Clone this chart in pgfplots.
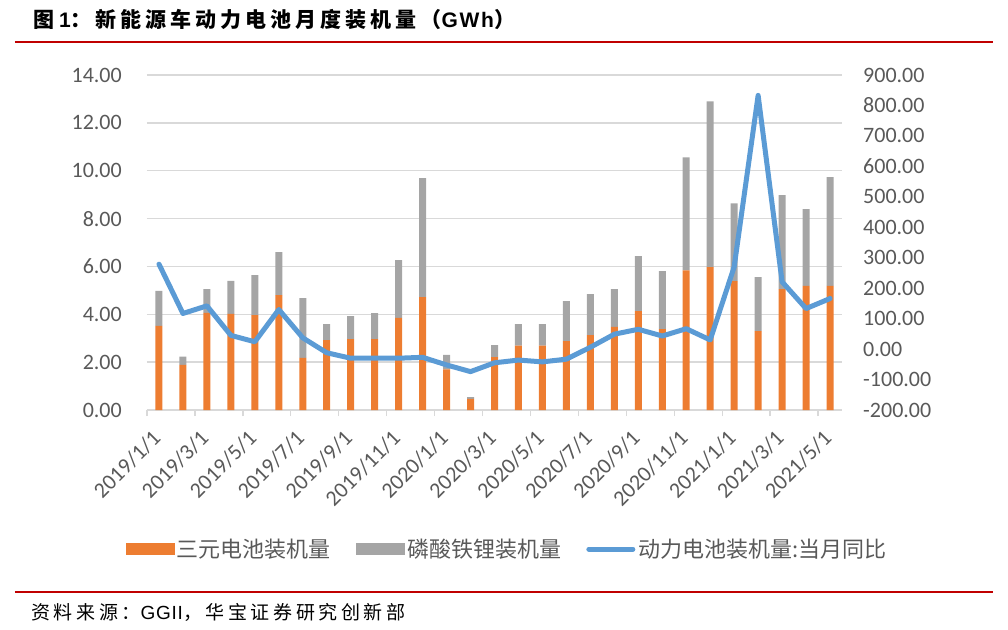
\documentclass[border=0pt]{standalone}
\usepackage{fontspec}
\usepackage{pgfplots}
\pgfplotsset{compat=1.18}
\usepackage{pgfplotstable}
\setmainfont{Carlito}
\newfontfamily\cjk{Noto Sans CJK SC}
\newfontfamily\cjktitle[LetterSpace=19]{Noto Sans CJK SC}
\newfontfamily\lattitle[LetterSpace=8]{Liberation Sans}
\newfontfamily\cjksrc[LetterSpace=19]{Noto Sans CJK SC}
\newfontfamily\latsrc[LetterSpace=4]{Liberation Sans}
\definecolor{orangeC}{HTML}{ED7D31}
\definecolor{grayC}{HTML}{A5A5A5}
\definecolor{blueC}{HTML}{5B9BD5}
\definecolor{gridC}{HTML}{D9D9D9}
\definecolor{tickC}{HTML}{595959}
\definecolor{redC}{HTML}{C00000}

\pgfplotstableread{
idx tern lfp yoy
0 3.52 1.46 279
1 1.89 0.34 117
2 4.06 0.99 142
3 4.02 1.38 45
4 3.97 1.67 24
5 4.80 1.80 130
6 2.18 2.50 37
7 2.92 0.67 -12
8 2.96 0.96 -30
9 2.96 1.09 -30
10 3.85 2.41 -30
11 4.72 4.97 -27
12 1.70 0.60 -52
13 0.46 0.08 -74
14 2.21 0.50 -45
15 2.69 0.90 -36
16 2.69 0.90 -42
17 2.88 1.67 -33
18 3.13 1.71 6
19 3.47 1.58 49
20 4.13 2.30 65
21 3.38 2.42 43
22 5.84 4.72 67
23 5.97 6.93 30
24 5.39 3.25 270
25 3.30 2.25 833
26 5.05 3.93 221
27 5.19 3.20 133
28 5.19 4.54 166
}\datatable

\begin{document}
\begin{tikzpicture}
\useasboundingbox (-147pt,-219pt) rectangle (861pt,410pt);
% title and source
\node[anchor=base west, inner sep=0pt, font=\bfseries\fontsize{21}{25}\selectfont, text=black] at (-114pt,382pt) {{\cjktitle 图}\hspace{5pt}{\lattitle 1}{\cjktitle ：新能源车动力电池月度装机量（}{\lattitle GWh}{\cjktitle ）}};
\draw[redC, line width=2.5pt] (-132pt,368pt) -- (846pt,368pt);
\draw[redC, line width=2.5pt] (-132pt,-182pt) -- (846pt,-182pt);
\node[anchor=base west, inner sep=0pt, font=\fontsize{19}{23}\selectfont, text=black] at (-116pt,-209pt) {{\cjksrc 资料来源：}{\latsrc GGII}{\cjksrc ，华宝证券研究创新部}};

\begin{axis}[
  at={(0pt,0pt)}, anchor=south west,
  scale only axis, width=695pt, height=335pt,
  xmin=-0.5, xmax=28.5, ymin=0, ymax=14,
  enlargelimits=false,
  ybar stacked, bar width=7pt,
  axis x line*=bottom, axis y line*=left,
  x axis line style={-, draw=gridC, line width=1.3pt},
  y axis line style={draw=none},
  ytick={0,2,...,14},
  ymajorgrids, grid style={draw=gridC, line width=1.3pt},
  xtick={0,2,...,28},
  xticklabels={2019/1/1,2019/3/1,2019/5/1,2019/7/1,2019/9/1,2019/11/1,2020/1/1,2020/3/1,2020/5/1,2020/7/1,2020/9/1,2020/11/1,2021/1/1,2021/3/1,2021/5/1},
  minor xtick={-0.5,1.5,...,27.5},
  tick align=outside, major tick length=0pt, minor tick length=6pt,
  minor tick style={draw=gridC, line width=1.3pt},
  ytick style={draw=none},
  tick label style={font=\fontsize{22}{26}\selectfont, text=tickC},
  yticklabel style={anchor=east, inner sep=0pt, xshift=-25pt},
  xticklabel style={xshift=-8pt, yshift=-19pt, rotate=45, anchor=north east, inner sep=0pt},
  /pgf/number format/fixed,
  /pgf/number format/fixed zerofill,
  /pgf/number format/precision=2,
  /pgf/number format/assume math mode=true,
]
\addplot[fill=orangeC, draw=none] table[x=idx, y=tern] {\datatable};
\addplot[fill=grayC, draw=none] table[x=idx, y=lfp] {\datatable};
\end{axis}

\begin{axis}[
  at={(0pt,0pt)}, anchor=south west,
  scale only axis, width=695pt, height=335pt,
  xmin=-0.5, xmax=28.5, ymin=-200, ymax=900,
  enlargelimits=false,
  axis x line=none, axis y line*=right,
  y axis line style={draw=none},
  ytick={-200,-100,...,900},
  ytick style={draw=none}, major tick length=0pt,
  tick label style={font=\fontsize{22}{26}\selectfont, text=tickC},
  yticklabel style={anchor=west, inner sep=0pt, xshift=21pt},
  /pgf/number format/fixed,
  /pgf/number format/fixed zerofill,
  /pgf/number format/precision=2,
  /pgf/number format/assume math mode=true,
  legend columns=3,
  legend style={at={(0.5187,-0.415)}, anchor=center, draw=none, fill=none,
    font=\cjk\fontsize{22}{26}\selectfont, text=tickC,
    nodes={inner xsep=3pt, inner ysep=0pt},
    /tikz/every even column/.append style={column sep=22pt}},
]
\addlegendimage{/pgfplots/legend image code/.code={\fill[orangeC] (0pt,-5.5pt) rectangle (48pt,5.5pt);}}
\addlegendentry{三元电池装机量}
\addlegendimage{/pgfplots/legend image code/.code={\fill[grayC] (0pt,-5.5pt) rectangle (48pt,5.5pt);}}
\addlegendentry{磷酸铁锂装机量}
\addplot[blueC, line width=5pt, line join=round, line cap=round, mark=none,
  legend image code/.code={\draw[blueC, line width=5pt, line cap=round] (2pt,0pt) -- (46pt,0pt);}]
  table[x=idx, y=yoy] {\datatable};
\addlegendentry{动力电池装机量:当月同比}
\end{axis}
\end{tikzpicture}
\end{document}
